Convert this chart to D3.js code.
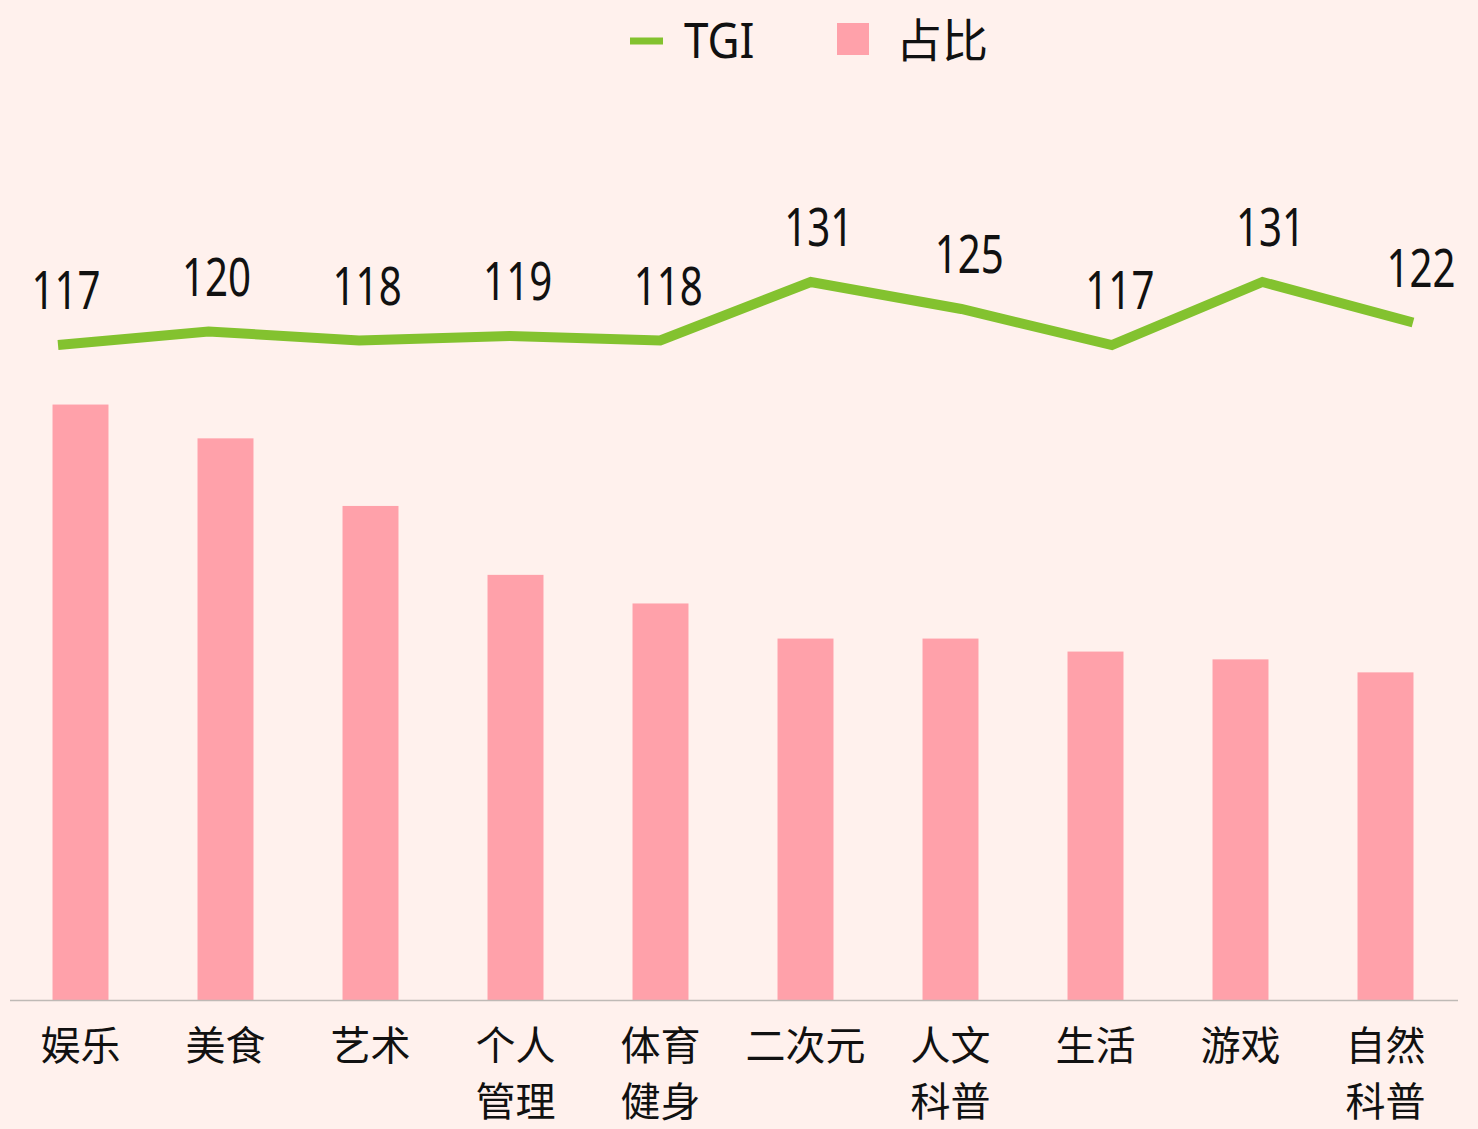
<!DOCTYPE html>
<html lang="zh">
<head>
  <meta charset="UTF-8">
  <title>TGI 与 占比</title>
  <script src="https://d3js.org/d3.v7.min.js"></script>
  <style>
    html, body { margin: 0; padding: 0; background: #fff1ed; }
    svg { display: block; }
    .num { font-family: "Noto Sans", sans-serif; fill: #111; }
    .cjk { font-family: "Noto Sans CJK SC", sans-serif; fill: #111; }
  </style>
</head>
<body>
<svg width="1478" height="1129"></svg>

<script>
// data
const categories = [["娱乐"], ["美食"], ["艺术"], ["个人", "管理"], ["体育", "健身"],
                    ["二次元"], ["人文", "科普"], ["生活"], ["游戏"], ["自然", "科普"]];
const share = [45.8, 43.2, 38.0, 32.7, 30.5, 27.8, 27.8, 26.8, 26.2, 25.2];  // 占比 (%)
const tgi = [117, 120, 118, 119, 118, 131, 125, 117, 131, 122];

const svg = d3.select("svg");
const keys = categories.map(d => d.join(""));
const baseY = 1000;

const x = d3.scaleBand().domain(keys).range([8, 1458]).paddingInner(0.614).paddingOuter(0.307);
const y = d3.scaleLinear().domain([0, 46.15]).range([baseY, 400]);
const xp = d3.scalePoint().domain(keys).range([58, 1413]);
const yt = d3.scaleLinear().domain([100, 140]).range([421.5, 241.5]);

const pink = "#ffa1aa", green = "#83c22f";

// bars
svg.append("g").selectAll("rect")
  .data(share)
  .join("rect")
  .attr("x", (d, i) => x(keys[i]))
  .attr("y", d => y(d))
  .attr("width", x.bandwidth())
  .attr("height", d => baseY - y(d))
  .attr("fill", pink);

// axis line
svg.append("line")
  .attr("x1", 10).attr("x2", 1458)
  .attr("y1", baseY + 0.5).attr("y2", baseY + 0.5)
  .attr("stroke", "#bfbab6").attr("stroke-width", 1.5);

// category labels
const cat = svg.append("g").selectAll("text")
  .data(categories)
  .join("text")
  .attr("class", "cjk")
  .attr("font-size", 40)
  .attr("text-anchor", "middle");
cat.selectAll("tspan")
  .data((d, i) => d.map(t => ({ t, i })))
  .join("tspan")
  .attr("x", d => x(keys[d.i]) + x.bandwidth() / 2)
  .attr("y", (d, j) => 1060 + j * 56)
  .text(d => d.t);

// TGI line
const line = d3.line()
  .x((d, i) => xp(keys[i]))
  .y(d => yt(d));

svg.append("path")
  .datum(tgi)
  .attr("d", line)
  .attr("fill", "none")
  .attr("stroke", green)
  .attr("stroke-width", 10);

// narrow digits, like the original font
svg.append("g").selectAll("text")
  .data(tgi)
  .join("text")
  .attr("class", "num")
  .attr("font-size", 53)
  .attr("text-anchor", "middle")
  .attr("transform", (d, i) => `translate(${xp(keys[i]) + 8},${yt(d) - 36}) scale(0.76,1)`)
  .text(d => d);

// legend
const lg = svg.append("g");
lg.append("line")
  .attr("x1", 630).attr("x2", 663)
  .attr("y1", 41).attr("y2", 41)
  .attr("stroke", green).attr("stroke-width", 7);
lg.append("text")
  .attr("class", "num")
  .attr("font-size", 50)
  .attr("transform", "translate(684,58) scale(0.88,1)")
  .text("TGI");
lg.append("rect")
  .attr("x", 837).attr("y", 23)
  .attr("width", 32).attr("height", 32)
  .attr("fill", pink);
lg.append("text")
  .attr("class", "cjk")
  .attr("font-size", 46)
  .attr("x", 896).attr("y", 57)
  .text("占比");
</script>
</body>
</html>
